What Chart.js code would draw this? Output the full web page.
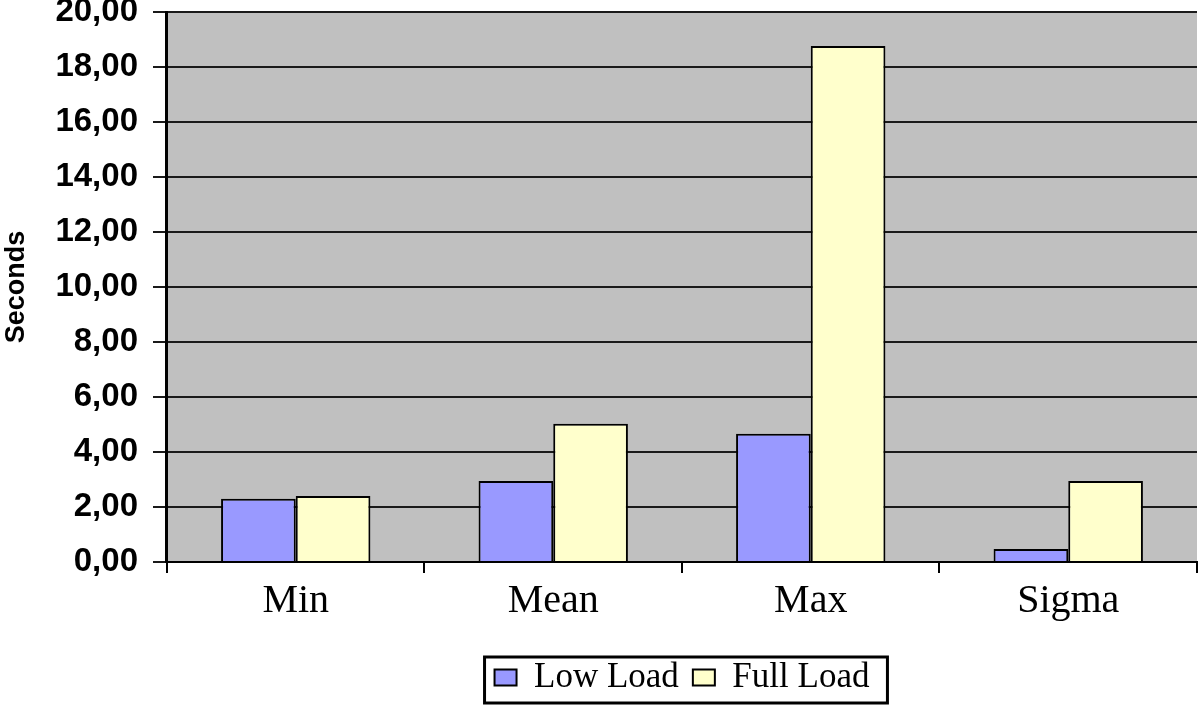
<!DOCTYPE html>
<html>
<head>
<meta charset="utf-8">
<script src="https://cdn.jsdelivr.net/npm/chart.js@4"></script>
<style>
  html, body { margin: 0; padding: 0; background: #fff; }
  #wrap { width: 1200px; height: 708px; }
</style>
</head>
<body>
<div id="wrap"><canvas id="loadChart"></canvas></div>
<script>
const categories = ['Min', 'Mean', 'Max', 'Sigma'];
const lowLoad = [2.30, 2.95, 4.66, 0.47];
const fullLoad = [2.40, 5.03, 18.76, 2.95];
const yTicks = [0, 2, 4, 6, 8, 10, 12, 14, 16, 18, 20];

// grey plot area like the old spreadsheet chart
const plotBg = {
    id: 'plotBg',
    beforeDraw(chart) {
        const a = chart.chartArea;
        const ctx = chart.ctx;
        ctx.save();
        ctx.fillStyle = '#c0c0c0';
        ctx.fillRect(a.left, a.top, a.right - a.left, a.bottom - a.top);
        ctx.restore();
    }
};

// frame around the legend
const legendFrame = {
    id: 'legendFrame',
    afterDraw(chart) {
        const boxes = chart.legend.legendHitBoxes;
        if (!boxes || !boxes.length) return;
        const left = Math.min(...boxes.map(b => b.left)) - 10;
        const right = Math.max(...boxes.map(b => b.left + b.width)) + 18;
        const top = Math.min(...boxes.map(b => b.top)) - 3;
        const bottom = Math.max(...boxes.map(b => b.top + b.height)) + 8;
        const ctx = chart.ctx;
        ctx.save();
        ctx.strokeStyle = '#000';
        ctx.lineWidth = 3;
        ctx.strokeRect(left, top, right - left, bottom - top);
        ctx.restore();
    }
};

const ctx = document.getElementById('loadChart').getContext('2d');
new Chart(ctx, {
    type: 'bar',
    data: {
        labels: categories,
        datasets: [
            {
                label: 'Low Load',
                data: lowLoad,
                backgroundColor: '#9999ff',
                borderColor: '#000',
                borderWidth: 2
            },
            {
                label: 'Full Load',
                data: fullLoad,
                backgroundColor: '#ffffcc',
                borderColor: '#000',
                borderWidth: 2
            }
        ]
    },
    options: {
        responsive: true,
        maintainAspectRatio: false,
        animation: false,
        layout: { padding: { top: 12, right: 3, bottom: 3, left: 0 } },
        datasets: {
            bar: { categoryPercentage: 0.58, barPercentage: 1.0 }
        },
        scales: {
            x: {
                afterFit(axis) {
                    // extra gap between category labels and legend
                    axis.height += 17;
                },
                grid: {
                    offset: true,
                    drawOnChartArea: false,
                    color: '#000',
                    lineWidth: 2,
                    tickLength: 11
                },
                border: { color: '#000', width: 2 },
                ticks: {
                    color: '#000',
                    padding: 4,
                    font: { family: 'Liberation Serif', size: 40 }
                }
            },
            y: {
                min: 0,
                max: 20,
                afterBuildTicks(axis) {
                    axis.ticks = yTicks.map(v => ({ value: v }));
                },
                afterFit(axis) {
                    // let the top label hang over the edge like the original
                    axis.paddingTop = 0;
                    axis.paddingBottom = 0;
                },
                grid: {
                    color: '#1a1a1a',
                    lineWidth: 2,
                    tickLength: 14
                },
                border: { color: '#000', width: 3 },
                ticks: {
                    color: '#000',
                    padding: 15,
                    font: { family: 'Liberation Sans', size: 33, weight: 'bold' },
                    callback: v => v.toFixed(2).replace('.', ',')
                },
                title: {
                    display: true,
                    text: 'Seconds',
                    color: '#000',
                    padding: { top: 0, bottom: 8 },
                    font: { family: 'Liberation Sans', size: 27, weight: 'bold' }
                }
            }
        },
        plugins: {
            legend: {
                position: 'bottom',
                fullSize: false,
                labels: {
                    color: '#000',
                    boxWidth: 22,
                    boxHeight: 16,
                    padding: 14,
                    font: { family: 'Liberation Serif', size: 35 }
                }
            },
            tooltip: { enabled: false }
        }
    },
    plugins: [plotBg, legendFrame]
});
</script>
</body>
</html>
